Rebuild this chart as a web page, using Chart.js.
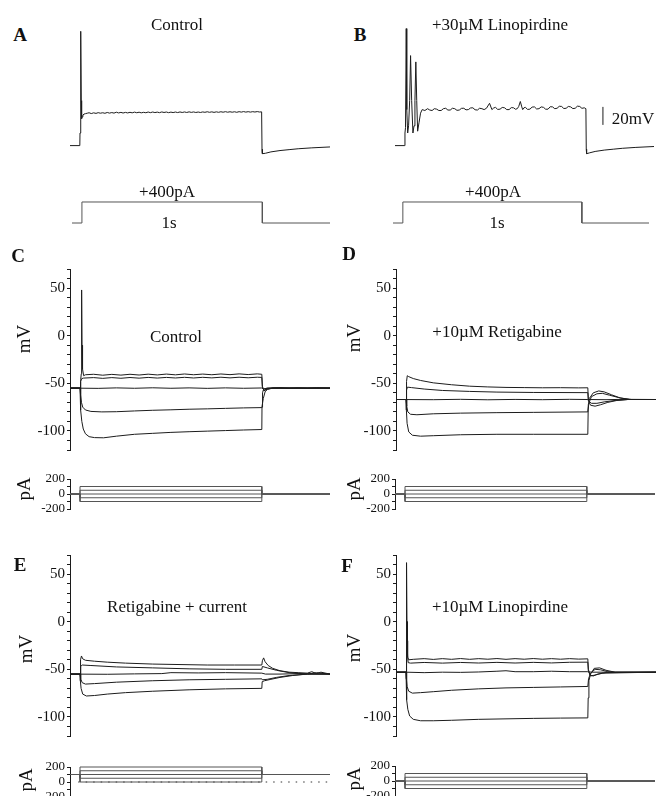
<!DOCTYPE html>
<html>
<head>
<meta charset="utf-8">
<script src="https://cdn.jsdelivr.net/npm/chart.js@4.4.1/dist/chart.umd.min.js"></script>
<style>
  body { margin: 0; background: #fff; }
  #fig { position: relative; width: 656px; height: 796px; overflow: hidden; background: #fff; }
  #fig canvas { position: absolute; }
  .t { position: absolute; font-family: "Liberation Serif", "Times New Roman", serif; color: #111;
       white-space: nowrap; transform: translate(-50%, -50%); line-height: 1; }
  .lt { font-weight: bold; font-size: 19px; }
  .lab { font-size: 17px; }
  .ax { font-size: 19px; transform: translate(-50%, -50%) rotate(-90deg); }
</style>
</head>
<body>
<div id="fig"></div>
<script>
// time in ms relative to step onset, voltage in mV, current in pA

// --- A / B: single +400pA step ---
const aVm = [[-55,-60],[-1,-60],[0,-46],[3,-44],[5,67],[7,-10],[9,-30],[12,-28],[16,-26],[22,-25],[30,-24.5],[40,-24],
  [50,-23.5],[62,-24.4],[75,-23.6],[88,-24.2],[100,-23.4],[112,-24],[125,-23.5],[137,-24.1],[150,-23.2],[162,-23.9],
  [175,-23.3],[187,-23.9],[200,-22.9],[212,-23.7],[225,-23.1],[237,-23.8],[250,-23.1],[262,-23.7],[275,-23],
  [287,-23.6],[300,-22.8],[312,-23.5],[325,-22.9],[337,-23.6],[350,-23],[362,-23.5],[375,-22.7],[387,-23.4],
  [400,-22.7],[412,-23.3],[425,-22.8],[437,-23.4],[450,-22.6],[462,-23.2],[475,-22.7],[487,-23.4],[500,-22.8],
  [512,-23.3],[525,-22.7],[537,-23.3],[550,-22.6],[562,-23.2],[575,-22.6],[587,-23.2],[600,-22.5],[612,-23.1],
  [625,-22.6],[637,-23.2],[650,-22.7],[662,-23.2],[675,-22.6],[687,-23],[700,-22.4],[712,-23],[725,-22.5],
  [737,-23.1],[750,-22.5],[762,-23],[775,-22.4],[787,-22.9],[800,-22.3],[812,-22.9],[825,-22.4],[837,-22.9],
  [850,-22.4],[862,-23],[875,-22.3],[887,-22.8],[900,-22.2],[912,-22.8],[925,-22.3],[937,-22.8],[950,-22.3],
  [962,-22.7],[975,-22.2],[987,-22.7],[999,-22.5],
  [1001,-64],[1003,-69],[1020,-68.5],[1050,-67],[1100,-65.5],[1150,-64.5],[1200,-63.5],[1275,-62.5],[1375,-61.5]];

const bVm = [[-55,-60],[-1,-60],[0,-46],[3,-40],[7,70],[10,-20],[15,-46],[20,-38],[26,-10],[31,40],[37,-10],[44,-46],
  [50,-38],[55,-10],[60,33],[65,-10],[70,-44],[78,-34],[86,-24],[95,-20],[110,-21],
  [125,-19],[137,-20.5],[150,-21],[162,-19],[175,-19.5],[187,-21],[200,-21],[212,-19],[225,-18.5],[237,-20.5],
  [250,-20.5],[262,-18.5],[275,-19],[287,-20.8],[300,-20.5],[312,-18.6],[325,-18.5],[337,-20.3],[350,-20],
  [362,-18.2],[375,-18],[387,-20.2],[400,-20.5],[412,-18.5],[425,-19],[437,-20],[450,-18.5],[467,-13],[480,-20],
  [490,-18.2],[500,-17.5],[512,-19.8],[525,-19.5],[537,-17.6],[550,-18],[562,-20],[575,-20],[587,-17.8],
  [600,-18],[610,-19.6],[620,-19],[628,-16.5],[637,-11],[645,-17],[650,-20],[657,-18],[665,-17.5],[677,-19.8],
  [690,-19.5],[702,-17.2],[715,-17],[727,-19.3],[740,-19],[752,-17],[765,-17.5],[777,-19.6],[790,-19.5],
  [802,-16.8],[815,-17],[827,-19],[840,-18.5],[852,-16.3],[865,-16.5],[877,-18.8],[890,-18.5],[902,-16.5],
  [915,-17],[927,-18.9],[940,-18.5],[952,-16.2],[965,-16.5],[977,-18.6],[990,-18],[999,-19],
  [1001,-64],[1003,-69],[1020,-68],[1050,-66.5],[1100,-65],[1150,-64],[1200,-63],[1275,-62],[1375,-61]];

const bScaleBar = [[1093,-37],[1093,-17]];   // 20 mV
const abStep = [[-55,0],[0,0],[0,400],[1000,400],[1000,0],[1375,0]];

// --- C: control ---
const cV1 = [[-55,-55],[0,-55],[4,-46],[7,-40],[9,48],[11,-10],[14,-35],[20,-42],[30,-41],
  [75,-40.5],[125,-41.5],[175,-40.6],[225,-41.4],[275,-40.5],[325,-41.3],[375,-40.4],[425,-41.2],[475,-40.3],
  [525,-41.1],[575,-40.2],[625,-41],[675,-40.3],[725,-41],[775,-40.2],[825,-40.9],[875,-40.1],[925,-40.8],
  [975,-40.1],[1000,-40.5],[1003,-53],[1012,-58],[1030,-56],[1060,-55],[1375,-55]];
const cV2 = [[-55,-55],[0,-55],[3,-48],[10,-45],[20,-44.5],[75,-44],[125,-44.8],[175,-44],[225,-44.7],[275,-43.9],
  [325,-44.6],[375,-43.8],[425,-44.5],[475,-43.8],[525,-44.4],[575,-43.7],[625,-44.4],[675,-43.7],[725,-44.3],
  [775,-43.6],[825,-44.3],[875,-43.6],[925,-44.2],[975,-43.6],[1000,-43.8],[1003,-54],[1012,-57.5],[1030,-55.5],
  [1060,-55],[1375,-55]];
const cV3 = [[-55,-55],[100,-55.3],[200,-54.8],[300,-55.2],[400,-54.7],[500,-55.2],[600,-54.8],[700,-55.3],
  [800,-54.8],[900,-55.2],[1000,-54.9],[1010,-56],[1030,-55.2],[1100,-54.6],[1150,-55.3],[1200,-54.8],
  [1250,-55.3],[1300,-54.7],[1375,-55]];
const cV4 = [[-55,-55],[0,-55],[3,-62],[8,-70],[15,-75],[30,-78],[60,-79.5],[120,-80],[200,-79.8],[300,-79],
  [400,-78.3],[500,-77.8],[600,-77.2],[700,-76.8],[800,-76.3],[900,-75.8],[1000,-75.5],[1008,-66],[1018,-59],
  [1030,-56.5],[1060,-55],[1375,-55]];
const cV5 = [[-55,-55],[0,-55],[2,-65],[5,-78],[10,-90],[18,-98],[30,-103],[50,-106],[80,-107],[130,-107.2],
  [200,-105.5],[300,-103.5],[400,-102.5],[500,-101.5],[600,-100.8],[700,-100.2],[800,-99.6],[900,-99],
  [1000,-98.5],[1001,-75],[1004,-60],[1010,-56],[1030,-55],[1375,-55]];

// --- D: +10uM retigabine ---
const dV1 = [[-55,-67],[0,-67],[3,-48],[7,-42],[15,-43],[40,-45],[80,-47],[150,-49.5],[250,-51.5],[350,-53],
  [450,-53.8],[550,-54.3],[650,-54.5],[750,-54.7],[850,-54.6],[950,-54.8],[1000,-54.7],[1003,-68],[1015,-73],
  [1040,-74],[1070,-72.5],[1110,-70],[1160,-68],[1220,-67],[1375,-67]];
const dV2 = [[-55,-67],[0,-67],[3,-57],[8,-54],[30,-54.5],[100,-56],[200,-57.5],[350,-58.5],[500,-59.2],
  [700,-59.6],[1000,-59.8],[1003,-68],[1020,-71],[1050,-71],[1090,-69.5],[1150,-68],[1220,-67],[1375,-67]];
const dV3 = [[-55,-67],[150,-67.2],[300,-66.8],[450,-67.3],[600,-66.9],[750,-67.2],[900,-66.8],[1000,-67],
  [1100,-67.2],[1200,-66.8],[1375,-67]];
const dV4 = [[-55,-67],[0,-67],[4,-74],[10,-80],[25,-82.5],[60,-83],[150,-82],[300,-81.3],[500,-80.8],
  [700,-80.5],[1000,-80],[1003,-72],[1020,-64],[1050,-61],[1080,-60.5],[1120,-62.5],[1170,-65],[1230,-67],[1375,-67]];
const dV5 = [[-55,-67],[0,-67],[2,-78],[6,-92],[15,-101],[35,-104.5],[80,-105.5],[150,-105],[300,-104],
  [500,-103.5],[700,-103.5],[1000,-103.5],[1002,-78],[1008,-66],[1030,-60],[1060,-58],[1090,-59],[1130,-62],
  [1180,-65.5],[1240,-67],[1375,-67]];

// --- E: retigabine + holding current ---
const eV1 = [[-55,-55],[0,-55],[3,-40],[8,-36],[15,-39],[30,-40.5],[80,-41.5],[150,-42.5],[250,-43.5],[400,-44.5],
  [550,-45],[700,-45.5],[850,-45.5],[1000,-45.5],[1003,-41],[1010,-38],[1018,-42],[1035,-46],[1060,-49],
  [1100,-51.5],[1150,-53],[1200,-53.5],[1250,-54],[1275,-52.5],[1300,-54.5],[1325,-53],[1375,-55]];
const eV2 = [[-55,-55],[0,-55],[4,-47],[12,-45.5],[60,-46],[200,-47.5],[400,-48.5],[600,-49.5],[800,-50],
  [1000,-50],[1003,-47],[1030,-48.5],[1080,-51],[1150,-53.5],[1250,-55],[1300,-53.5],[1375,-55]];
const eV3 = [[-55,-55],[150,-55.2],[300,-54.8],[450,-54.5],[500,-53.5],[650,-53.8],[800,-53.5],[1000,-54],
  [1020,-55],[1100,-55],[1200,-54.5],[1375,-55]];
const eV4 = [[-55,-55],[0,-55],[4,-60],[12,-64],[30,-65.5],[80,-65],[200,-63.5],[400,-62],[600,-61],
  [800,-60.5],[1000,-60],[1003,-61],[1030,-60.5],[1080,-58.5],[1150,-56.5],[1250,-55],[1375,-55]];
const eV5 = [[-55,-55],[0,-55],[2,-62],[6,-70],[15,-76],[35,-78],[80,-77.5],[150,-76],[250,-74.5],[400,-73],
  [600,-71.5],[800,-70.5],[1000,-70],[1002,-63],[1015,-62],[1050,-60.5],[1100,-58.5],[1170,-56.5],[1250,-55],[1375,-55]];

// --- F: +10uM linopirdine ---
const fV1 = [[-55,-53],[0,-53],[2,-44],[4,62],[6,-20],[9,-37],[15,-40],[40,-39.5],[100,-38.8],[150,-39.6],
  [200,-38.8],[250,-39.5],[300,-38.7],[350,-39.5],[400,-38.8],[450,-39.4],[500,-38.7],[550,-39.5],[600,-38.8],
  [650,-39.4],[700,-38.7],[750,-39.4],[800,-38.8],[850,-39.4],[900,-38.8],[950,-39.3],[1000,-39],[1003,-50],
  [1012,-56],[1030,-57],[1055,-55],[1100,-53.5],[1375,-53]];
const fV2 = [[-55,-53],[0,-53],[3,-46],[6,0],[8,-35],[12,-43],[25,-43.5],[100,-42.8],[200,-43.5],[300,-42.8],
  [400,-43.4],[500,-42.7],[600,-43.4],[700,-42.7],[800,-43.3],[900,-42.6],[1000,-42.5],[1003,-52],[1015,-57],
  [1040,-56],[1080,-54],[1375,-53]];
const fV3 = [[-55,-53],[0,-53],[100,-53.5],[200,-53],[300,-53.2],[400,-52.8],[500,-52],[550,-51.5],[600,-52.5],
  [700,-52.5],[800,-52],[900,-52.5],[1000,-52.5],[1020,-53],[1375,-53]];
const fV4 = [[-55,-53],[0,-53],[2,-60],[6,-68],[15,-73],[35,-75],[80,-74.5],[150,-73.5],[250,-72],[400,-70.5],
  [550,-69.5],[700,-69],[850,-68.5],[1000,-68],[1004,-60],[1015,-54],[1040,-50],[1070,-50.5],[1110,-52.5],
  [1150,-53],[1375,-53]];
const fV5 = [[-55,-53],[0,-53],[2,-68],[5,-82],[10,-92],[20,-99],[40,-102.5],[80,-104],[150,-104],[250,-103.5],
  [400,-102.5],[550,-102],[700,-101.5],[850,-101.2],[1000,-101],[1002,-80],[1006,-62],[1015,-55],[1035,-49],
  [1065,-48.5],[1100,-51],[1150,-53],[1375,-53]];

// current protocols (pA)
const stepsCDF = [-100, -50, 0, 50, 100];
const stepsE = [0, 50, 100, 150, 200];
const holdE = 100;
const stepOn = 0, stepOff = 1000, tStart = -55, tEnd = 1375;

const SERIF = '"Liberation Serif", "Times New Roman", serif';
const INK = '#1c1c1c';
const PROT = '#555';
const AXW = 40;
const PAD = 14;

const fig = document.getElementById('fig');

function pts(arr) { return arr.map(p => ({ x: p[0], y: p[1] })); }

function line(arr, color, extra) {
  return Object.assign({ data: pts(arr), borderColor: color || INK, borderWidth: 1, pointRadius: 0,
    fill: false, tension: 0, clip: false }, extra || {});
}

function protocol(levels, hold) {
  return levels.map(s => line([[tStart, hold], [stepOn, hold], [stepOn, s], [stepOff, s], [stepOff, hold], [tEnd, hold]], PROT));
}

function mvAxis() {
  return {
    type: 'linear', min: -120, max: 70,
    afterFit: s => { s.width = AXW; },
    border: { display: true, color: INK, width: 1 },
    grid: { drawOnChartArea: false, drawTicks: true, tickLength: 3, color: INK },
    ticks: { stepSize: 10, autoSkip: false, padding: 2, color: '#111', font: { family: SERIF, size: 15 },
      callback: v => (v % 50 === 0 ? String(v) : '') }
  };
}

function paAxis() {
  return {
    type: 'linear', min: -200, max: 200,
    afterFit: s => { s.width = AXW; },
    border: { display: true, color: INK, width: 1 },
    grid: { drawOnChartArea: false, drawTicks: true, tickLength: 3, color: INK },
    ticks: { stepSize: 100, autoSkip: false, padding: 2, color: '#111', font: { family: SERIF, size: 13 },
      callback: v => (v % 200 === 0 ? String(v) : '') }
  };
}

function hiddenAxis(min, max) { return { type: 'linear', display: false, min: min, max: max }; }

// area = chart area in page pixels
function addChart(area, yScale, datasets, axisW) {
  const c = document.createElement('canvas');
  const w = Math.round(area.x1 - area.x0 + axisW + 2 * PAD);
  const h = Math.round(area.y1 - area.y0 + 2 * PAD);
  c.width = w; c.height = h;
  c.style.width = w + 'px'; c.style.height = h + 'px';
  c.style.left = (area.x0 - axisW - PAD) + 'px';
  c.style.top = (area.y0 - PAD) + 'px';
  fig.appendChild(c);
  return new Chart(c, {
    type: 'line',
    data: { datasets: datasets },
    options: {
      responsive: false, animation: false, events: [],
      layout: { padding: PAD },
      plugins: { legend: { display: false }, tooltip: { enabled: false } },
      scales: { x: { type: 'linear', display: false, min: tStart, max: tEnd }, y: yScale }
    }
  });
}

function text(str, x, y, cls) {
  const d = document.createElement('div');
  d.className = 't ' + cls;
  d.style.left = x + 'px'; d.style.top = y + 'px';
  d.textContent = str;
  fig.appendChild(d);
}

// A
addChart({ x0: 70, x1: 330, y0: 25, y1: 160 }, hiddenAxis(-76, 74), [line(aVm)], 0);
addChart({ x0: 72, x1: 330, y0: 195, y1: 230 }, hiddenAxis(-133, 533), [line(abStep, PROT)], 0);
// B
addChart({ x0: 395, x1: 654, y0: 25, y1: 160 }, hiddenAxis(-76, 74), [line(bVm), line(bScaleBar)], 0);
addChart({ x0: 393, x1: 649, y0: 195, y1: 230 }, hiddenAxis(-133, 533), [line(abStep, PROT)], 0);
// C
addChart({ x0: 70, x1: 330, y0: 269, y1: 449.5 }, mvAxis(), [cV1, cV2, cV3, cV4, cV5].map(a => line(a)), AXW);
addChart({ x0: 70, x1: 330, y0: 479, y1: 509 }, paAxis(), protocol(stepsCDF, 0), AXW);
// D
addChart({ x0: 396, x1: 656, y0: 269, y1: 449.5 }, mvAxis(), [dV1, dV2, dV3, dV4, dV5].map(a => line(a)), AXW);
addChart({ x0: 395, x1: 655, y0: 479, y1: 509 }, paAxis(), protocol(stepsCDF, 0), AXW);
// E
addChart({ x0: 70, x1: 330, y0: 555, y1: 735.5 }, mvAxis(), [eV1, eV2, eV3, eV4, eV5].map(a => line(a)), AXW);
addChart({ x0: 70, x1: 330, y0: 767, y1: 797 }, paAxis(),
  protocol(stepsE, holdE).concat([line([[-10, 0], [tEnd, 0]], '#333', { borderDash: [1.5, 6] })]), AXW);
// F
addChart({ x0: 396, x1: 656, y0: 555, y1: 735.5 }, mvAxis(), [fV1, fV2, fV3, fV4, fV5].map(a => line(a)), AXW);
addChart({ x0: 395, x1: 655, y0: 766, y1: 796 }, paAxis(), protocol(stepsCDF, 0), AXW);

// labels
text('A', 20, 34, 'lt');
text('B', 360, 34, 'lt');
text('C', 18, 255, 'lt');
text('D', 349, 253, 'lt');
text('E', 20, 564, 'lt');
text('F', 347, 565, 'lt');

text('Control', 177, 24, 'lab');
text('+30\u00b5M Linopirdine', 500, 24, 'lab');
text('+400pA', 167, 191, 'lab');
text('1s', 169, 222, 'lab');
text('+400pA', 493, 191, 'lab');
text('1s', 497, 222, 'lab');
text('20mV', 633, 118, 'lab');

text('Control', 176, 336, 'lab');
text('+10\u00b5M Retigabine', 497, 331, 'lab');
text('Retigabine + current', 177, 606, 'lab');
text('+10\u00b5M Linopirdine', 500, 606, 'lab');

text('mV', 23, 339, 'ax');
text('mV', 353, 338, 'ax');
text('mV', 25, 649, 'ax');
text('mV', 353, 648, 'ax');
text('pA', 23, 489, 'ax');
text('pA', 353, 489, 'ax');
text('pA', 25, 780, 'ax');
text('pA', 353, 779, 'ax');
</script>
</body>
</html>
